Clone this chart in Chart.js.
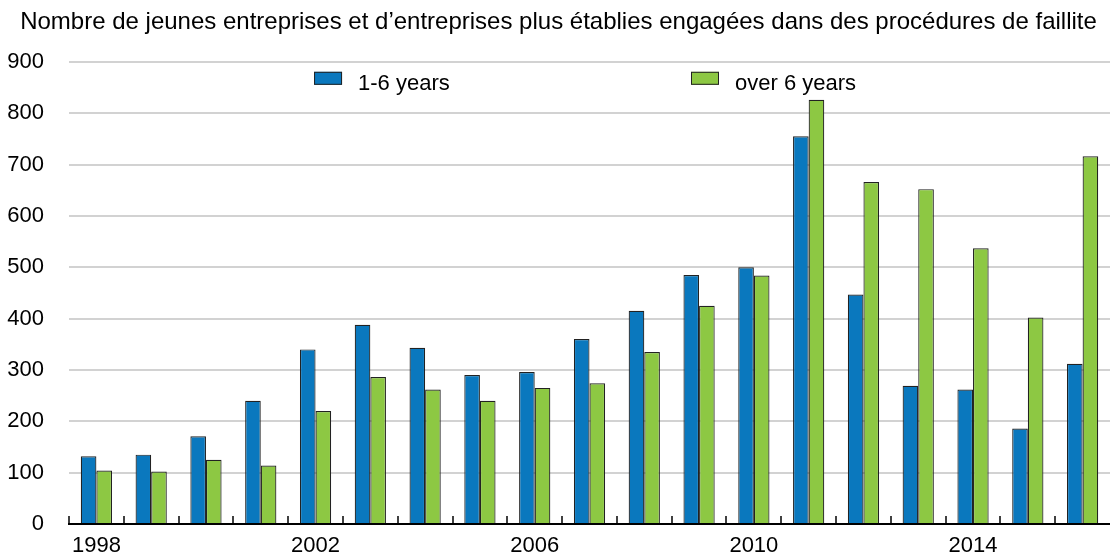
<!DOCTYPE html>
<html>
<head>
<meta charset="utf-8">
<script src="https://cdn.jsdelivr.net/npm/chart.js@4/dist/chart.umd.min.js"></script>
<style>
  html, body { margin: 0; padding: 0; background: #fff; }
  #wrap { width: 1110px; height: 560px; }
</style>
</head>
<body>
<div id="wrap"><canvas id="grafica"></canvas></div>
<script>
const titulo = "Nombre de jeunes entreprises et d\u2019entreprises plus établies engagées dans des procédures de faillite";
const annees = ["1998", "1999", "2000", "2001", "2002", "2003", "2004", "2005", "2006", "2007",
                "2008", "2009", "2010", "2011", "2012", "2013", "2014", "2015", "2016"];
const jeunes = [132, 135, 171, 240, 340, 388, 343, 290, 296, 360,
                415, 485, 500, 755, 447, 269, 262, 186, 312];
const etablies = [104, 102, 125, 114, 220, 286, 262, 240, 265, 274,
                  335, 425, 484, 826, 666, 652, 537, 402, 716];
const libelles = ["1-6 years", "over 6 years"];
const yTicks = { min: 0, max: 900, pas: 100 };

Chart.defaults.font.family = '"Liberation Sans", Arial, sans-serif';
Chart.defaults.color = '#000';

// legend inside the plot area, at fixed spots like the original
const legendePlugin = {
    id: 'legendeInterne',
    afterDraw(chart) {
        const { ctx, chartArea } = chart;
        const posX = [0.2354, 0.5975];
        const w = chartArea.right - chartArea.left;
        ctx.save();
        ctx.font = '22px "Liberation Sans", Arial, sans-serif';
        ctx.textBaseline = 'middle';
        chart.data.datasets.forEach((ds, i) => {
            const x = chartArea.left + w * posX[i];
            const y = chartArea.top + 10;
            ctx.fillStyle = ds.backgroundColor;
            ctx.fillRect(x, y, 28, 13);
            ctx.strokeStyle = '#222';
            ctx.lineWidth = 1;
            ctx.strokeRect(x + 0.5, y + 0.5, 27, 12);
            ctx.fillStyle = '#000';
            ctx.fillText(ds.label, x + 44, y + 12);
        });
        ctx.restore();
    }
};

// small upward ticks between categories on the x axis
const graduationsPlugin = {
    id: 'graduations',
    afterDatasetsDraw(chart) {
        const { ctx, scales: { x, y } } = chart;
        const n = chart.data.labels.length;
        const larg = (x.right - x.left) / n;
        const base = y.getPixelForValue(0);
        ctx.save();
        ctx.strokeStyle = '#000';
        ctx.lineWidth = 1.5;
        for (let i = 0; i < n; i++) {
            const px = Math.round(x.getPixelForValue(i) - larg / 2);
            ctx.beginPath();
            ctx.moveTo(px, base);
            ctx.lineTo(px, base - 8);
            ctx.stroke();
        }
        ctx.restore();
    }
};

new Chart(document.getElementById('grafica'), {
    type: 'bar',
    data: {
        labels: annees,
        datasets: [{
            label: libelles[0],
            data: jeunes,
            backgroundColor: '#0a78be',
            borderColor: '#222',
            borderWidth: 1.2,
            categoryPercentage: 0.57,
            barPercentage: 1
        }, {
            label: libelles[1],
            data: etablies,
            backgroundColor: '#8dc843',
            borderColor: '#222',
            borderWidth: 1.2,
            categoryPercentage: 0.57,
            barPercentage: 1
        }]
    },
    options: {
        responsive: true,
        maintainAspectRatio: false,
        animation: false,
        layout: { padding: { left: 7, right: 0, top: 0, bottom: 0 } },
        plugins: {
            legend: { display: false },
            tooltip: { enabled: false },
            title: {
                display: true,
                text: titulo,
                color: '#000',
                font: { size: 24, weight: 'normal' },
                padding: { top: 8, bottom: 25 }
            }
        },
        scales: {
            x: {
                offset: true,
                grid: { display: false, drawTicks: false },
                border: { display: true, color: '#000', width: 2 },
                afterFit: s => { s.height = 36; },
                ticks: {
                    autoSkip: false,
                    maxRotation: 0,
                    padding: 9,
                    font: { size: 22 },
                    callback: function (v, i) {
                        return (i % 4 === 0) ? annees[i] : '';
                    }
                }
            },
            y: {
                min: yTicks.min,
                max: yTicks.max,
                grid: { color: '#d2d2d2', lineWidth: 2, drawTicks: false },
                border: { display: false },
                afterFit: s => {
                    s.width = 62;
                    s.paddingTop = 14;
                    s.paddingBottom = 14;
                },
                ticks: {
                    stepSize: yTicks.pas,
                    padding: 25,
                    font: { size: 22 }
                }
            }
        }
    },
    plugins: [legendePlugin, graduationsPlugin]
});
</script>
</body>
</html>
